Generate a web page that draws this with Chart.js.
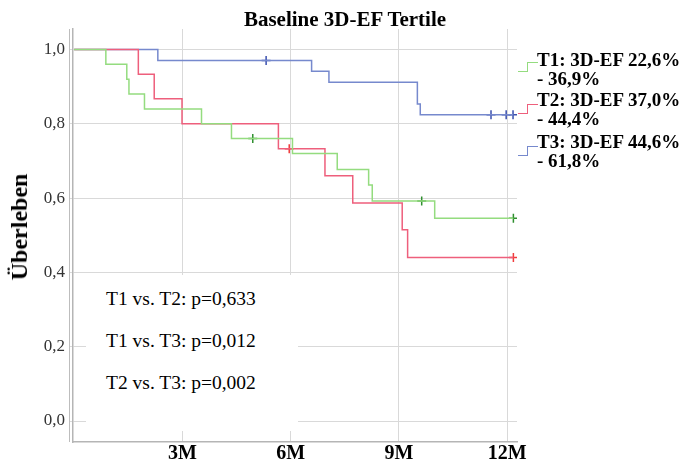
<!DOCTYPE html>
<html>
<head>
<meta charset="utf-8">
<script src="https://cdn.jsdelivr.net/npm/chart.js@4"></script>
<style>
  body { margin: 0; background: #fff; }
  #wrap { position: relative; width: 690px; height: 463px; font-family: "Liberation Serif", "Times New Roman", serif; }
  #myChart { position: absolute; left: 0; top: 0; }
  .title { position: absolute; left: 0; top: 9px; width: 690px; text-align: center; font-weight: bold; font-size: 21px; line-height: 21px; }
  .ytitle { position: absolute; left: 19px; top: 227px; font-weight: bold; font-size: 24px; line-height: 24px; white-space: nowrap; transform: translate(-50%, -50%) rotate(-90deg); }
  .pbox { position: absolute; left: 86px; top: 275px; width: 212px; height: 156px; background: #fff; }
  .pbox div { position: absolute; left: 20px; font-size: 19.5px; line-height: 42px; white-space: nowrap; }
  .leg { position: absolute; left: 537px; font-weight: bold; font-size: 19px; line-height: 19px; white-space: nowrap; }
  .ico { position: absolute; width: 19px; height: 10px; }
  .ico .lo { position: absolute; left: 0; bottom: 0; width: 9px; height: 0; border-bottom: 1.5px solid; }
  .ico .hi { position: absolute; left: 9px; top: 0; width: 10px; height: 8.5px; border-left: 1.5px solid; border-top: 1.5px solid; }
</style>
</head>
<body>
<div id="wrap">
  <canvas id="myChart" width="690" height="463"></canvas>
  <div class="title">Baseline 3D-EF Tertile</div>
  <div class="ytitle">Überleben</div>
  <div class="pbox">
    <div style="top:3.1px">T1 vs. T2: p=0,633</div>
    <div style="top:44.7px">T1 vs. T3: p=0,012</div>
    <div style="top:86.7px">T2 vs. T3: p=0,002</div>
  </div>
  <div id="legend"></div>
</div>
<script>
// months after baseline, survival estimate
var t1Times = [0, 0.88, 1.46, 1.52, 1.95, 3.53, 4.36, 6.05, 7.29, 8.16, 8.26, 9.99, 12.17];
var t1Surv  = [1, 0.96, 0.92, 0.88, 0.84, 0.80, 0.76, 0.72, 0.677, 0.635, 0.592, 0.546, 0.546];
var t1CensTimes = [4.95, 9.63, 12.17];
var t1CensSurv  = [0.76, 0.592, 0.546];

var t2Times = [0, 1.78, 2.22, 2.99, 5.66, 6.95, 7.72, 9.09, 9.24, 12.17];
var t2Surv  = [1, 0.933, 0.867, 0.80, 0.733, 0.66, 0.587, 0.515, 0.44, 0.44];
var t2CensTimes = [5.96, 12.17];
var t2CensSurv  = [0.733, 0.44];

var t3Times = [0, 2.32, 6.58, 7.06, 9.51, 9.59, 12.17];
var t3Surv  = [1, 0.97, 0.941, 0.912, 0.853, 0.824, 0.824];
var t3CensTimes = [5.32, 11.55, 11.97, 12.16];
var t3CensSurv  = [0.97, 0.824, 0.824, 0.824];

var groupNames = ['T1: 3D-EF 22,6%', 'T2: 3D-EF 37,0%', 'T3: 3D-EF 44,6%'];
var groupNames2 = ['- 36,9%', '- 44,4%', '- 61,8%'];
var xTickValues = [3, 6, 9, 12];
var xTickLabels = ['3M', '6M', '9M', '12M'];
var yTickValues = [0, 0.2, 0.4, 0.6, 0.8, 1.0];

var lineColors = ['#94dc7f', '#ee5f7c', '#7689cd'];
var censColors = ['#2f8f2f', '#f03c3c', '#3a4fae'];

function pts(xs, ys) {
  return xs.map(function (x, i) { return {x: x, y: ys[i]}; });
}

function kmLine(xs, ys, col) {
  return {type: 'line', data: pts(xs, ys), borderColor: col, borderWidth: 1.5,
          stepped: true, pointRadius: 0, fill: false};
}

function censors(xs, ys, col) {
  return {type: 'scatter', data: pts(xs, ys), showLine: false, pointStyle: 'cross',
          pointRadius: 4.5, borderColor: col, borderWidth: 1.5, backgroundColor: col};
}

var extraAxis = {
  id: 'extraAxis',
  afterDraw: function (chart) {
    var c = chart.ctx, a = chart.chartArea;
    c.save();
    c.strokeStyle = '#bdbdbd';
    c.lineWidth = 1;
    c.beginPath();
    c.moveTo(69.5, a.top);
    c.lineTo(69.5, a.bottom);
    c.stroke();
    c.restore();
  }
};

window.onload = function () {
  var ctx = document.getElementById('myChart');
  var myChart = new Chart(ctx, {
    data: {
      datasets: [
        kmLine(t1Times, t1Surv, lineColors[0]),
        kmLine(t2Times, t2Surv, lineColors[1]),
        kmLine(t3Times, t3Surv, lineColors[2]),
        censors(t1CensTimes, t1CensSurv, censColors[0]),
        censors(t2CensTimes, t2CensSurv, censColors[1]),
        censors(t3CensTimes, t3CensSurv, censColors[2])
      ]
    },
    options: {
      responsive: false,
      animation: false,
      layout: { padding: { top: 29, right: 173, bottom: 0, left: 0 } },
      plugins: { legend: { display: false }, title: { display: false }, tooltip: { enabled: false } },
      scales: {
        x: {
          type: 'linear', min: -0.03, max: 12.27,
          afterBuildTicks: function (s) { s.ticks = xTickValues.map(function (v) { return {value: v}; }); },
          afterFit: function (s) { s.height = 21; },
          grid: { color: '#d9d9d9', drawTicks: false },
          border: { color: '#b5b5b5', width: 1.5 },
          ticks: {
            padding: 0, maxRotation: 0, color: '#000',
            font: { family: 'Liberation Serif', size: 20, weight: 'bold' },
            callback: function (v) { return xTickLabels[xTickValues.indexOf(v)]; }
          }
        },
        y: {
          type: 'linear', min: -0.0565, max: 1.055,
          afterBuildTicks: function (s) { s.ticks = yTickValues.map(function (v) { return {value: v}; }); },
          afterFit: function (s) { s.width = 73; },
          grid: { color: '#d9d9d9', tickLength: 4 },
          border: { color: '#b5b5b5', width: 1.5 },
          ticks: {
            padding: 4, color: '#333',
            font: { family: 'Liberation Serif', size: 17 },
            callback: function (v) { return v.toFixed(1).replace('.', ','); }
          }
        }
      }
    },
    plugins: [extraAxis]
  });

  var legend = document.getElementById('legend');
  var tops = [50.1, 90.4, 132.4];
  var icoTops = [62, 104, 146];
  for (var i = 0; i < groupNames.length; i++) {
    var d = document.createElement('div');
    d.className = 'leg';
    d.style.top = tops[i] + 'px';
    d.innerHTML = groupNames[i] + '<br>' + groupNames2[i];
    legend.appendChild(d);
    var ic = document.createElement('div');
    ic.className = 'ico';
    ic.style.left = '518px';
    ic.style.top = icoTops[i] + 'px';
    ic.style.color = lineColors[i];
    ic.innerHTML = '<div class="lo"></div><div class="hi"></div>';
    legend.appendChild(ic);
  }
}
</script>
</body>
</html>
